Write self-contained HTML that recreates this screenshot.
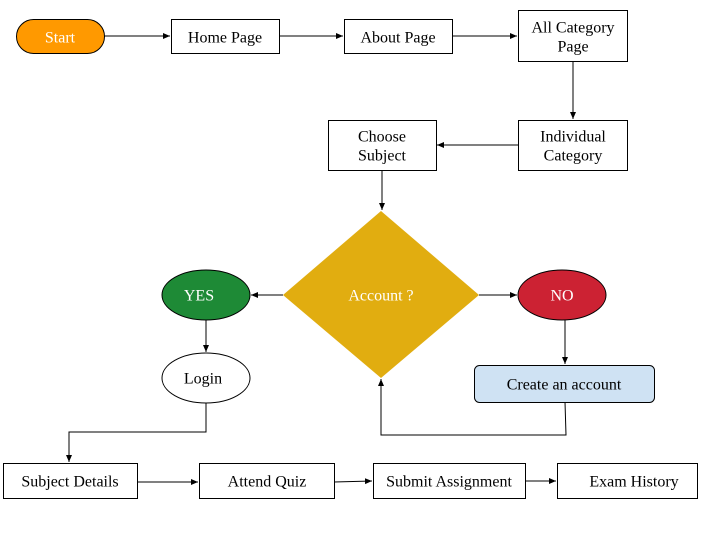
<!DOCTYPE html>
<html><head><meta charset="utf-8"><style>body{margin:0;background:#fff}svg{display:block}text{font-family:"Liberation Serif",serif;font-size:16px;fill:#000;text-anchor:middle;dominant-baseline:central}</style></head><body>
<svg width="720" height="540" viewBox="0 0 720 540" xmlns="http://www.w3.org/2000/svg">
<defs><marker id="a" markerWidth="8" markerHeight="8" refX="7" refY="3" orient="auto" markerUnits="userSpaceOnUse"><path d="M0,0 L7,3 L0,6 z" fill="#000"/></marker></defs>
<g stroke="#000" stroke-width="1" fill="none" marker-end="url(#a)">
<line x1="104" y1="36" x2="170" y2="36"/>
<line x1="279" y1="36" x2="343" y2="36"/>
<line x1="452" y1="36" x2="517" y2="36"/>
<line x1="573" y1="61" x2="573" y2="119"/>
<line x1="518" y1="145" x2="437" y2="145"/>
<line x1="382" y1="170" x2="382" y2="210"/>
<line x1="283" y1="295" x2="251" y2="295"/>
<line x1="479" y1="295" x2="517" y2="295"/>
<line x1="206" y1="320" x2="206" y2="352"/>
<line x1="565" y1="320" x2="565" y2="364"/>
<polyline points="565,402 566,435 381,435 381,379"/>
<polyline points="206,403 206,432 69,432 69,462"/>
<line x1="137" y1="482" x2="198" y2="482"/>
<line x1="334" y1="482" x2="372" y2="481"/>
<line x1="525" y1="481" x2="556" y2="481"/>
</g>
<g stroke="#000" stroke-width="1">
<rect x="16.5" y="19.5" width="88" height="34" rx="17" fill="#ff9900"/>
<rect x="171.5" y="19.5" width="108" height="34" fill="#fff"/>
<rect x="344.5" y="19.5" width="108" height="34" fill="#fff"/>
<rect x="518.5" y="10.5" width="109" height="51" fill="#fff"/>
<rect x="518.5" y="120.5" width="109" height="50" fill="#fff"/>
<rect x="328.5" y="120.5" width="108" height="50" fill="#fff"/>
<ellipse cx="206" cy="295" rx="44" ry="25" fill="#1e8a36"/>
<ellipse cx="562" cy="295" rx="44" ry="25" fill="#cc2233"/>
<ellipse cx="206" cy="378" rx="44" ry="25" fill="#fff"/>
<rect x="474.5" y="365.5" width="180" height="37" rx="5" fill="#cfe2f3"/>
<rect x="3.5" y="463.5" width="134" height="35" fill="#fff"/>
<rect x="199.5" y="463.5" width="135" height="35" fill="#fff"/>
<rect x="373.5" y="463.5" width="152" height="35" fill="#fff"/>
<rect x="557.5" y="463.5" width="140" height="35" fill="#fff"/>
</g>
<polygon points="381,211 479,295 381,378 283,295" fill="#e1ad10"/>
<text x="60" y="38" style="fill:#fff">Start</text>
<text x="225" y="38">Home Page</text>
<text x="398" y="38">About Page</text>
<text x="573" y="28">All Category</text>
<text x="573" y="47">Page</text>
<text x="573" y="137">Individual</text>
<text x="573" y="156">Category</text>
<text x="382" y="137">Choose</text>
<text x="382" y="156">Subject</text>
<text x="381" y="296" style="fill:#fff">Account ?</text>
<text x="199" y="296" style="fill:#fff">YES</text>
<text x="562" y="296" style="fill:#fff">NO</text>
<text x="203" y="379">Login</text>
<text x="564" y="385">Create an account</text>
<text x="70" y="482">Subject Details</text>
<text x="267" y="482">Attend Quiz</text>
<text x="449" y="482">Submit Assignment</text>
<text x="634" y="482">Exam History</text>
</svg>
</body></html>
